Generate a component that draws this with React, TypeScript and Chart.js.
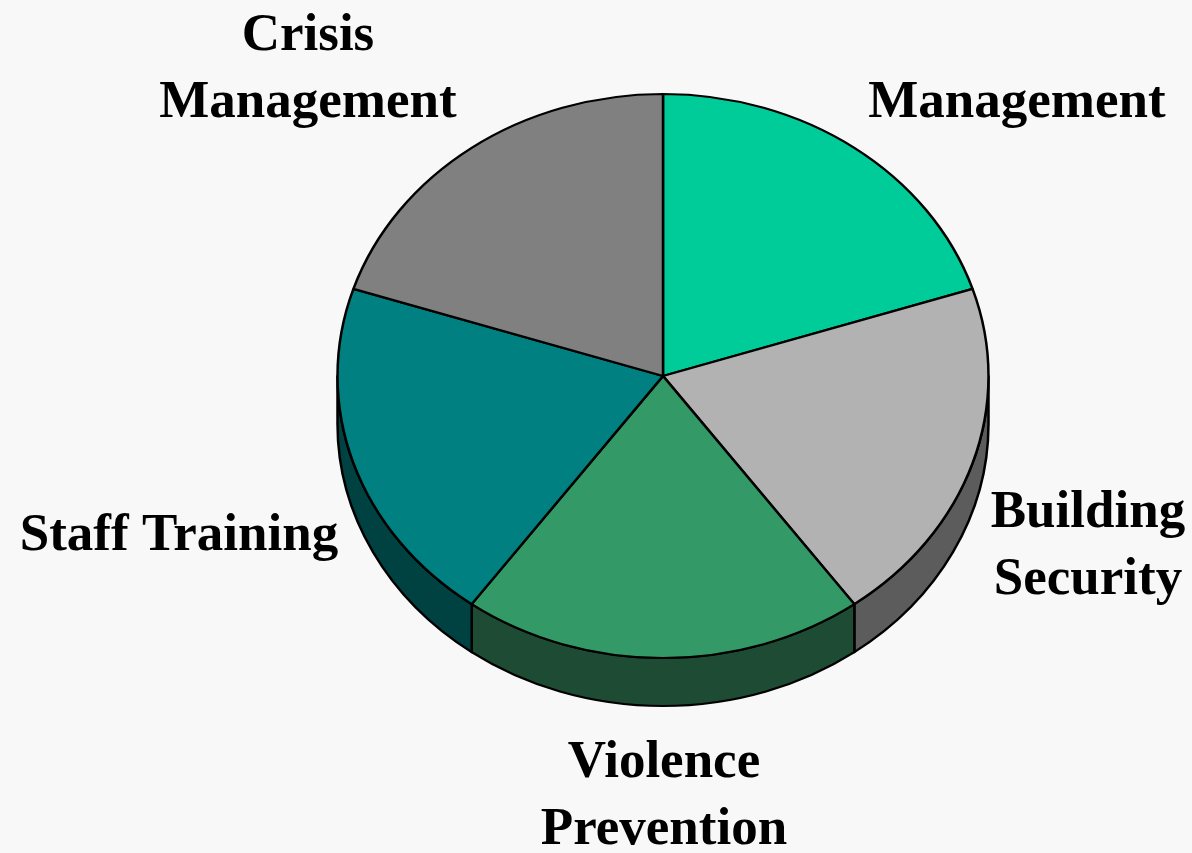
import React, { useEffect, useRef } from "react";
import { Chart, registerables } from "chart.js";

Chart.register(...registerables);

// ---- data ----
const categories = ["Management", "Building Security", "Violence Prevention", "Staff Training", "Crisis Management"];
const shares = [20, 20, 20, 20, 20];
const topColors = ["#00CC99", "#B2B2B2", "#339966", "#008080", "#808080"];
const sideColors = ["#006650", "#5C5C5C", "#1D4B33", "#004242", "#404040"];
const labelLines = [
  ["Management"],
  ["Building", "Security"],
  ["Violence", "Prevention"],
  ["Staff Training"],
  ["Crisis", "Management"],
];

// ---- layout (not data) ----
const W = 1192;
const H = 853;
const CX = 663;
const CY = 376;
const RX = 325.5;
const RY = 282;
const DEPTH = 48;
const LINE_GAP = 67;
const labelAnchors = [
  [1017, 117],
  [1088, 527],
  [664, 777],
  [179, 550],
  [308, 50],
];

const pie3d = {
  id: "pie3d",
  beforeDatasetsDraw(chart: any) {
    const ctx = chart.ctx;
    const meta = chart.getDatasetMeta(0);
    const k = RY / RX;
    const d = DEPTH / k;
    ctx.save();
    ctx.translate(CX, CY);
    ctx.scale(1, k);
    ctx.translate(-CX, -CY);
    meta.data.forEach((arc: any, i: number) => {
      const { x, y, outerRadius, startAngle, endAngle } = arc.getProps(
        ["x", "y", "outerRadius", "startAngle", "endAngle"],
        true
      );
      const a1 = Math.max(startAngle, 0);
      const a2 = Math.min(endAngle, Math.PI);
      if (a1 >= a2) return;
      ctx.beginPath();
      ctx.arc(x, y, outerRadius, a1, a2);
      ctx.lineTo(x + outerRadius * Math.cos(a2), y + d + outerRadius * Math.sin(a2));
      ctx.arc(x, y + d, outerRadius, a2, a1, true);
      ctx.closePath();
      ctx.fillStyle = sideColors[i];
      ctx.fill();
      ctx.lineWidth = 2.5;
      ctx.strokeStyle = "#000000";
      ctx.lineJoin = "round";
      ctx.stroke();
    });
  },
  afterDatasetsDraw(chart: any) {
    chart.ctx.restore();
  },
  afterDraw(chart: any) {
    const ctx = chart.ctx;
    ctx.save();
    ctx.fillStyle = "#000000";
    ctx.font = 'bold 53px "Liberation Serif", "Times New Roman", serif';
    ctx.textAlign = "center";
    ctx.textBaseline = "alphabetic";
    labelLines.forEach((lines, i) => {
      const [x, y] = labelAnchors[i];
      lines.forEach((t, j) => ctx.fillText(t, x, y + j * LINE_GAP));
    });
    ctx.restore();
  },
};

export default function App() {
  const ref = useRef<HTMLCanvasElement | null>(null);
  useEffect(() => {
    document.body.style.margin = "0";
    document.body.style.background = "#F8F8F8";
    const canvas = ref.current!;
    const chart = new Chart(canvas, {
      type: "pie",
      data: {
        labels: categories,
        datasets: [
          {
            data: shares,
            backgroundColor: topColors,
            borderColor: "#000000",
            borderWidth: 2.5,
          },
        ],
      },
      options: {
        responsive: false,
        animation: false,
        events: [],
        radius: RX,
        layout: {
          padding: {
            left: CX - 330,
            right: W - (CX + 330),
            top: CY - 330,
            bottom: H - (CY + 330),
          },
        },
        plugins: {
          legend: { display: false },
          tooltip: { enabled: false },
        },
      } as any,
      plugins: [pie3d],
    });
    return () => chart.destroy();
  }, []);
  return (
    <div style={{ position: "absolute", left: 0, top: 0, width: W, height: H, background: "#F8F8F8" }}>
      <canvas ref={ref} width={W} height={H} style={{ width: W, height: H, display: "block" }} />
    </div>
  );
}
